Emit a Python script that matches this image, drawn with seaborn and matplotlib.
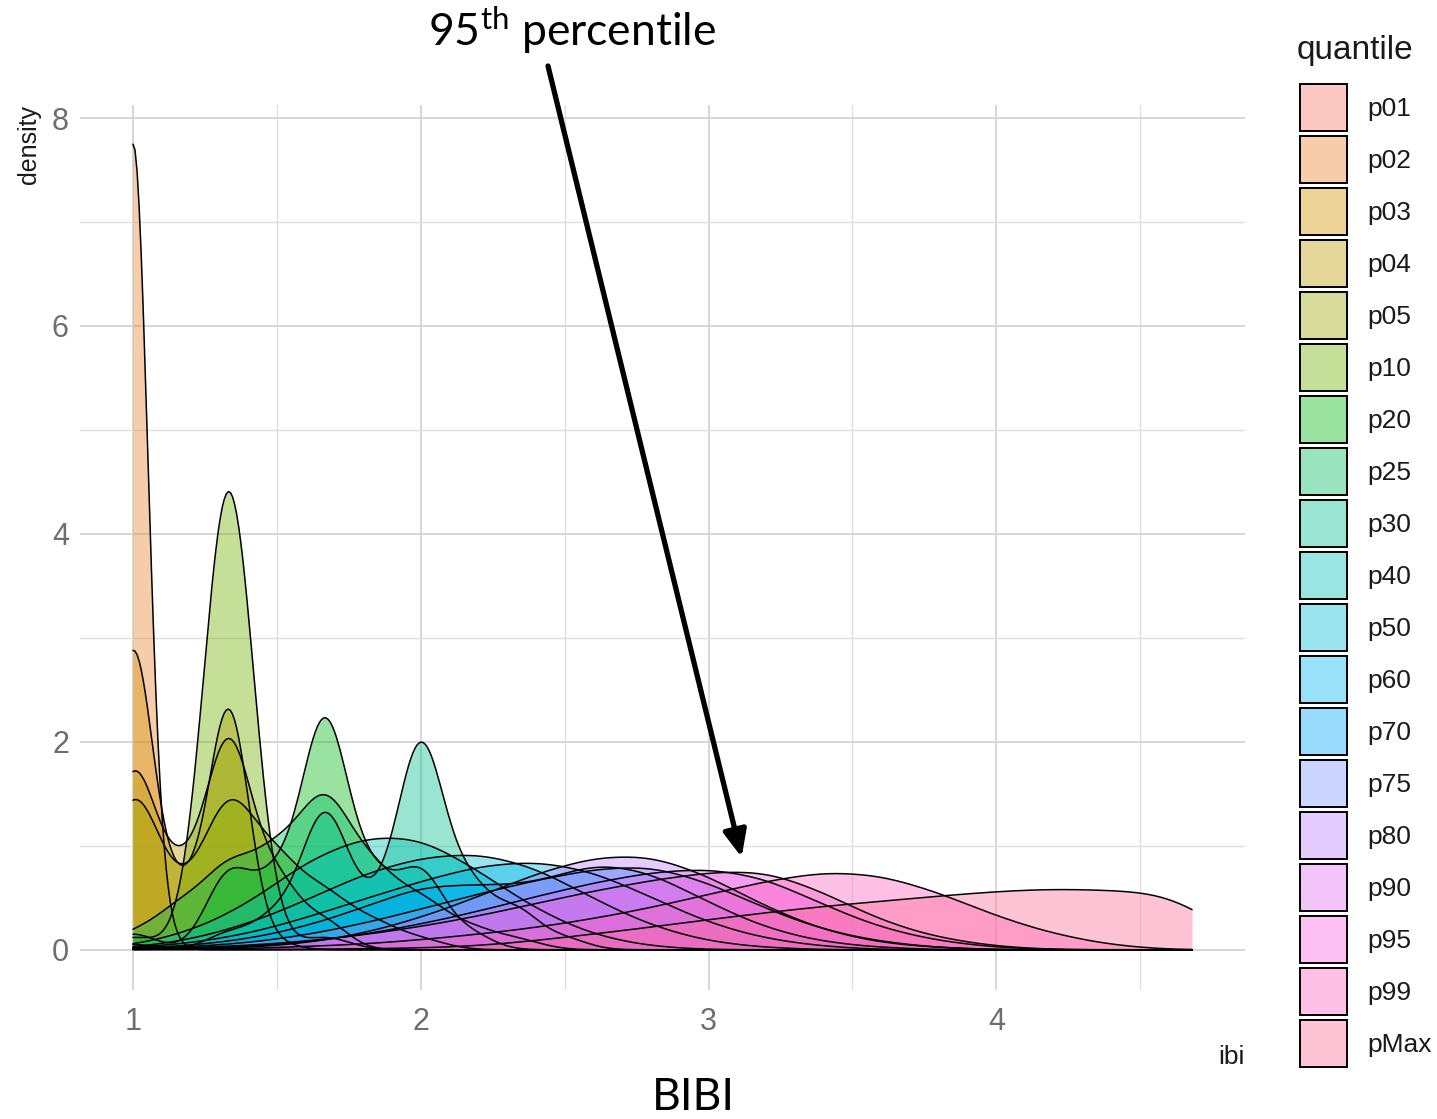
import numpy as np
import pandas as pd
import matplotlib
matplotlib.use("Agg")
import matplotlib.pyplot as plt
from matplotlib.patches import Patch
import seaborn as sns

# ---------------------------------------------------------------------------
# quantile groups, in drawing order
quantiles = ["p01", "p02", "p03", "p04", "p05", "p10", "p20", "p25", "p30",
             "p40", "p50", "p60", "p70", "p75", "p80", "p90", "p95", "p99", "pMax"]

# ibi values (support points) and their relative weights for each group
ibi_p01 = [1.0]
wt_p01 = [1.0]
ibi_p02 = [1.0, 1.08]
wt_p02 = [0.96, 0.04]
ibi_p03 = [1.0, 1.167, 1.333, 1.5]
wt_p03 = [0.50, 0.09, 0.40, 0.01]
ibi_p04 = [1.0, 1.167, 1.333, 1.5, 1.667]
wt_p04 = [0.33, 0.12, 0.38, 0.12, 0.05]
ibi_p05 = [1.0, 1.167, 1.333, 1.5, 1.667, 1.833, 2.0]
wt_p05 = [0.31, 0.08, 0.28, 0.16, 0.10, 0.05, 0.02]
ibi_p10 = [1.0, 1.333, 1.667]
wt_p10 = [0.025, 0.95, 0.025]
ibi_p20 = [1.0, 1.333, 1.5, 1.667, 1.833, 2.0, 2.167]
wt_p20 = [0.03, 0.14, 0.12, 0.42, 0.12, 0.14, 0.03]
ibi_p25 = [1.0, 1.167, 1.333, 1.5, 1.667, 1.833, 2.0, 2.167, 2.333]
wt_p25 = [0.03, 0.08, 0.15, 0.17, 0.28, 0.14, 0.09, 0.04, 0.02]
ibi_p30 = [1.0, 1.333, 1.5, 1.667, 1.833, 2.0, 2.167, 2.333, 2.5]
wt_p30 = [0.01, 0.03, 0.06, 0.25, 0.07, 0.38, 0.11, 0.07, 0.02]
ibi_p40 = [1.0, 1.2, 1.4, 1.6, 1.8, 2.0, 2.2, 2.4, 2.6, 2.8]
wt_p40 = [0.04, 0.18, 0.45, 0.90, 1.15, 1.15, 0.80, 0.40, 0.14, 0.03]
ibi_p50 = [1.0, 1.2, 1.4, 1.6, 1.8, 2.0, 2.2, 2.4, 2.6, 2.8, 3.0, 3.2]
wt_p50 = [0.02, 0.10, 0.26, 0.50, 0.78, 0.95, 1.00, 0.85, 0.52, 0.24, 0.08, 0.02]
ibi_p60 = [1.0, 1.2, 1.4, 1.6, 1.8, 2.0, 2.2, 2.4, 2.6, 2.8, 3.0, 3.2, 3.4]
wt_p60 = [0.02, 0.06, 0.15, 0.30, 0.48, 0.65, 0.80, 0.85, 0.75, 0.50, 0.25, 0.10, 0.03]
ibi_p70 = [1.0, 1.2, 1.4, 1.6, 1.8, 2.0, 2.2, 2.4, 2.6, 2.8, 3.0, 3.2, 3.4, 3.6]
wt_p70 = [0.01, 0.04, 0.10, 0.22, 0.40, 0.62, 0.62, 0.62, 0.85, 0.75, 0.45, 0.20, 0.07, 0.02]
ibi_p75 = [1.0, 1.2, 1.4, 1.6, 1.8, 2.0, 2.2, 2.4, 2.6, 2.8, 3.0, 3.2, 3.4, 3.6, 3.8]
wt_p75 = [0.01, 0.03, 0.07, 0.15, 0.27, 0.42, 0.58, 0.72, 0.84, 0.88, 0.70, 0.42, 0.20, 0.08, 0.02]
ibi_p80 = [1.0, 1.2, 1.4, 1.6, 1.8, 2.0, 2.2, 2.4, 2.6, 2.8, 3.0, 3.2, 3.4, 3.6, 3.8]
wt_p80 = [0.005, 0.01, 0.02, 0.06, 0.15, 0.30, 0.50, 0.72, 0.88, 0.90, 0.70, 0.40, 0.18, 0.06, 0.02]
ibi_p90 = [1.0, 1.2, 1.4, 1.6, 1.8, 2.0, 2.2, 2.4, 2.6, 2.8, 3.0, 3.2, 3.4, 3.6, 3.8, 4.0]
wt_p90 = [0.005, 0.01, 0.03, 0.07, 0.14, 0.24, 0.36, 0.50, 0.63, 0.73, 0.77, 0.68, 0.42, 0.20, 0.08, 0.02]
ibi_p95 = [1.0, 1.2, 1.4, 1.6, 1.8, 2.0, 2.2, 2.4, 2.6, 2.8, 3.0, 3.2, 3.4, 3.6, 3.8, 4.0]
wt_p95 = [0.01, 0.02, 0.04, 0.08, 0.14, 0.22, 0.32, 0.44, 0.56, 0.66, 0.74, 0.76, 0.55, 0.27, 0.11, 0.03]
ibi_p99 = [1.0, 1.2, 1.4, 1.6, 1.8, 2.0, 2.2, 2.4, 2.6, 2.8, 3.0, 3.2, 3.4, 3.6, 3.8, 4.0, 4.2, 4.4]
wt_p99 = [0.003, 0.006, 0.01, 0.03, 0.05, 0.09, 0.14, 0.20, 0.28, 0.38, 0.50, 0.62, 0.71, 0.68,
          0.52, 0.30, 0.14, 0.04]
ibi_pMax = [1.0, 1.2, 1.4, 1.6, 1.8, 2.0, 2.2, 2.4, 2.6, 2.8, 3.0, 3.2, 3.4, 3.6, 3.8, 4.0,
            4.2, 4.4, 4.6, 4.68]
wt_pMax = [0.001, 0.001, 0.002, 0.004, 0.008, 0.015, 0.03, 0.08, 0.14, 0.20, 0.27, 0.33, 0.39,
           0.43, 0.48, 0.52, 0.55, 0.53, 0.45, 0.20]

# kernel bandwidth (in ibi units) per group
bandwidths = [0.05, 0.05, 0.07, 0.08, 0.09, 0.086, 0.08, 0.09, 0.08,
              0.13, 0.13, 0.13, 0.13, 0.13, 0.13, 0.13, 0.13, 0.13, 0.16]

x_ticks = [1, 2, 3, 4]
y_ticks = [0, 2, 4, 6, 8]

# ---------------------------------------------------------------------------
ibi_values = [ibi_p01, ibi_p02, ibi_p03, ibi_p04, ibi_p05, ibi_p10, ibi_p20, ibi_p25, ibi_p30,
              ibi_p40, ibi_p50, ibi_p60, ibi_p70, ibi_p75, ibi_p80, ibi_p90, ibi_p95, ibi_p99,
              ibi_pMax]
weights = [wt_p01, wt_p02, wt_p03, wt_p04, wt_p05, wt_p10, wt_p20, wt_p25, wt_p30,
           wt_p40, wt_p50, wt_p60, wt_p70, wt_p75, wt_p80, wt_p90, wt_p95, wt_p99, wt_pMax]

df = pd.concat(
    [pd.DataFrame({"quantile": q, "ibi": v, "w": w})
     for q, v, w in zip(quantiles, ibi_values, weights)],
    ignore_index=True,
)
# every density is evaluated over the full range of the data
full_range = (df["ibi"].min(), df["ibi"].max())


def hcl_to_hex(h, c=100.0, l=65.0):
    """Polar-Luv (HCL) colour to sRGB hex, D65 white."""
    hr = np.deg2rad(h)
    u, v = c * np.cos(hr), c * np.sin(hr)
    xn, yn, zn = 95.047, 100.0, 108.883
    un = 4 * xn / (xn + 15 * yn + 3 * zn)
    vn = 9 * yn / (xn + 15 * yn + 3 * zn)
    y = yn * ((l + 16) / 116) ** 3
    up = u / (13 * l) + un
    vp = v / (13 * l) + vn
    x = 9 * y * up / (4 * vp)
    z = y * (12 - 3 * up - 20 * vp) / (4 * vp)
    x, y, z = x / 100, y / 100, z / 100
    r = 3.2404542 * x - 1.5371385 * y - 0.4985314 * z
    g = -0.9692660 * x + 1.8760108 * y + 0.0415560 * z
    b = 0.0556434 * x - 0.2040259 * y + 1.0572252 * z
    out = []
    for ch in (r, g, b):
        ch = 12.92 * ch if ch <= 0.0031308 else 1.055 * ch ** (1 / 2.4) - 0.055
        out.append(min(max(ch, 0.0), 1.0))
    return "#%02x%02x%02x" % tuple(int(round(ch * 255)) for ch in out)


n = len(quantiles)
hues = [15 + 360.0 * i / n for i in range(n)]
palette = dict(zip(quantiles, [hcl_to_hex(h) for h in hues]))

# ---------------------------------------------------------------------------
sns.set_style("white")
plt.rcParams["font.family"] = ["Liberation Sans", "DejaVu Sans"]
plt.rcParams["mathtext.fontset"] = "custom"
plt.rcParams["mathtext.rm"] = "Lato"
plt.rcParams["mathtext.it"] = "Lato:italic"

W, H = 1437, 1119
fig = plt.figure(figsize=(W / 100, H / 100), dpi=100)
ax = fig.add_axes([80 / W, 1 - 990 / H, (1245 - 80) / W, (990 - 104.5) / H])

ALPHA = 0.4
for q, bw in zip(quantiles, bandwidths):
    sub = df[df["quantile"] == q]
    if np.ptp(sub["ibi"].to_numpy()) == 0:
        continue  # no spread: no density can be estimated
    sd = np.sqrt(np.cov(sub["ibi"].to_numpy(), aweights=sub["w"].to_numpy()))
    factor = bw / sd
    kde_kws = dict(data=sub, x="ibi", weights="w", bw_method=factor, cut=1000,
                   clip=full_range, gridsize=512, ax=ax)
    sns.kdeplot(fill=True, color=palette[q], alpha=ALPHA, linewidth=0, **kde_kws)
    sns.kdeplot(fill=False, color="black", linewidth=1.1, **kde_kws)

ax.set_xlim(0.816, 4.864)
ax.set_ylim(-0.387, 8.13)
ax.set_xticks(x_ticks)
ax.set_xticklabels([str(t) for t in x_ticks])
ax.set_yticks(y_ticks)
ax.set_yticklabels([str(t) for t in y_ticks])
ax.set_xticks([1.5, 2.5, 3.5, 4.5], minor=True)
ax.set_yticks([1, 3, 5, 7], minor=True)
ax.grid(which="major", color="#d4d4d4", linewidth=1.3)
ax.grid(which="minor", color="#e0e0e0", linewidth=1.0)
ax.set_axisbelow(True)
ax.tick_params(which="both", length=0)
ax.tick_params(axis="x", labelsize=22, labelcolor="#6e6e6e", pad=12)
ax.tick_params(axis="y", labelsize=22, labelcolor="#6e6e6e", pad=8)
for s in ax.spines.values():
    s.set_visible(False)

ax.set_xlabel("ibi", loc="right", fontsize=19, color="#1a1a1a", labelpad=6)
ax.set_ylabel("density", loc="top", fontsize=18, color="#1a1a1a", labelpad=8)

# legend: title as its own text, keys below it
fig.text(1297 / W, 1 - 50 / H, "quantile", ha="left", va="center",
         fontsize=24, color="#1a1a1a")
handles = [Patch(facecolor=matplotlib.colors.to_rgba(palette[q], ALPHA),
                 edgecolor="black", linewidth=1.4) for q in quantiles]
fs = 19
px_per_em = fs * 100 / 72
fig.legend(handles, quantiles, loc="upper left",
           bbox_to_anchor=(1300 / W, 1 - 84 / H), frameon=False,
           fontsize=fs,
           handlelength=47 / px_per_em, handleheight=2.363,
           labelspacing=5 / px_per_em, handletextpad=20 / px_per_em,
           borderpad=0, borderaxespad=0, labelcolor="#1a1a1a")

# annotations
fig.text(572 / W, 1 - 30 / H, "95$^{\\mathrm{th}}$ percentile", ha="center", va="center",
         fontsize=32, family="Lato", color="black")
ax.annotate("", xy=(3.115, 0.89), xycoords="data",
            xytext=(548 / W, 1 - 66 / H), textcoords="figure fraction",
            arrowprops=dict(arrowstyle="-|>,head_length=0.8,head_width=0.35",
                            lw=3.8, color="black", mutation_scale=20,
                            shrinkA=0, shrinkB=0),
            annotation_clip=False)
fig.text(693 / W, 1 - 1097 / H, "BIBI", ha="center", va="center",
         fontsize=32, family="Lato", color="black")

fig.savefig("out.png", dpi=100)
